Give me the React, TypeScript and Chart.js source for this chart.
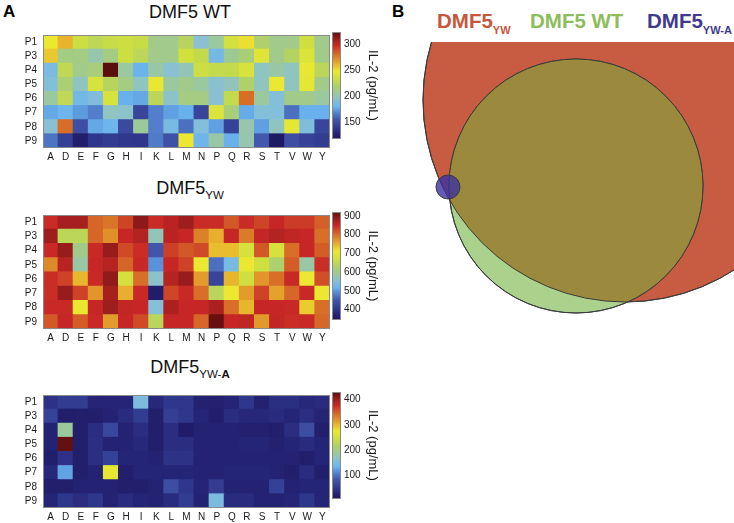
import React, { useEffect, useRef } from 'react';
import { Chart, registerables } from 'chart.js';

Chart.register(...registerables);
const FONT = '"Liberation Sans", Arial, Helvetica, sans-serif';
Chart.defaults.font.family = FONT;
Chart.defaults.color = '#1a1a1a';

// ---------- data ----------
const residues = ['A', 'D', 'E', 'F', 'G', 'H', 'I', 'K', 'L', 'M', 'N', 'P', 'Q', 'R', 'S', 'T', 'V', 'W', 'Y'];
const positions = ['P1', 'P3', 'P4', 'P5', 'P6', 'P7', 'P8', 'P9'];

// IL-2 (pg/mL), rows P1..P9, columns A..Y
const wtValues = [
  [248, 261, 232, 225, 230, 232, 230, 210, 210, 222, 192, 204, 236, 250, 218, 210, 210, 234, 210],
  [256, 212, 212, 200, 212, 232, 224, 210, 210, 235, 228, 183, 208, 215, 242, 210, 220, 240, 210],
  [186, 226, 210, 214, 323, 204, 179, 202, 192, 198, 232, 228, 228, 238, 196, 202, 196, 246, 224],
  [190, 216, 196, 238, 222, 212, 196, 247, 204, 210, 204, 193, 197, 218, 196, 248, 196, 245, 210],
  [204, 226, 183, 188, 238, 178, 176, 224, 194, 212, 212, 192, 228, 280, 205, 190, 210, 210, 204],
  [176, 180, 173, 166, 196, 194, 145, 166, 174, 178, 145, 240, 215, 177, 190, 190, 162, 178, 178],
  [192, 280, 150, 176, 180, 148, 206, 166, 185, 162, 190, 174, 143, 200, 174, 196, 245, 188, 145],
  [163, 142, 124, 137, 140, 138, 137, 165, 152, 248, 180, 202, 178, 200, 155, 120, 150, 143, 140],
];
const ywValues = [
  [846, 875, 875, 806, 795, 829, 892, 846, 860, 880, 846, 846, 815, 846, 829, 850, 835, 835, 810],
  [880, 644, 644, 806, 775, 850, 865, 570, 860, 850, 785, 750, 850, 790, 852, 865, 855, 850, 800],
  [848, 885, 605, 848, 885, 825, 845, 448, 832, 815, 825, 740, 740, 680, 815, 680, 800, 850, 812],
  [780, 860, 585, 850, 862, 806, 848, 495, 850, 830, 711, 470, 535, 711, 670, 625, 812, 585, 845],
  [845, 830, 745, 848, 890, 675, 800, 560, 862, 885, 765, 420, 745, 672, 770, 800, 848, 710, 822],
  [845, 885, 830, 770, 875, 750, 848, 360, 828, 848, 800, 640, 711, 765, 830, 760, 805, 848, 711],
  [848, 848, 708, 850, 880, 852, 850, 550, 870, 850, 850, 870, 800, 745, 850, 850, 848, 730, 800],
  [815, 850, 812, 848, 765, 850, 825, 640, 850, 850, 805, 915, 850, 855, 768, 852, 845, 848, 805],
];
const ywaValues = [
  [45, 55, 55, 30, 30, 30, 152, 35, 50, 50, 25, 25, 30, 50, 25, 42, 42, 35, 38],
  [62, 22, 22, 22, 28, 38, 55, 22, 58, 50, 32, 22, 40, 35, 35, 38, 32, 40, 30],
  [28, 190, 22, 40, 68, 28, 40, 22, 40, 18, 28, 28, 28, 25, 25, 22, 40, 75, 22],
  [28, 426, 22, 42, 28, 28, 35, 22, 40, 40, 28, 28, 28, 32, 32, 25, 32, 38, 32],
  [22, 45, 22, 42, 60, 32, 32, 28, 45, 45, 28, 28, 28, 28, 28, 28, 28, 22, 32],
  [35, 126, 22, 28, 270, 22, 32, 32, 32, 32, 28, 28, 32, 32, 32, 28, 22, 38, 22],
  [22, 22, 28, 28, 28, 22, 22, 28, 75, 50, 32, 55, 28, 28, 28, 60, 28, 32, 32],
  [32, 50, 40, 50, 28, 38, 32, 28, 38, 55, 28, 150, 38, 38, 28, 28, 32, 50, 32],
];

const wtRange = [117, 323];
const ywRange = [344, 921];
const ywaRange = [8, 430];
const wtTicks = [150, 200, 250, 300];
const ywTicks = [400, 500, 600, 700, 800, 900];
const ywaTicks = [100, 200, 300, 400];

// Venn circles (units; red = DMF5 YW, green = DMF5 WT, blue = DMF5 YW-A)
const vennNames = ['DMF5 YW-A', 'DMF5 WT', 'DMF5 YW'];
const vennX = [-1.77, -0.49, 0];
const vennY = [-0.87, -0.86, 0];
const vennR = [0.12, 1.27, 2.02];

// ---------- colormap ----------
const cmapStops: Array<[number, number[]]> = [
  [0.0, [28, 22, 95]],
  [0.06, [38, 38, 120]],
  [0.11, [50, 60, 145]],
  [0.18, [65, 85, 170]],
  [0.25, [85, 135, 210]],
  [0.3, [106, 180, 238]],
  [0.36, [135, 192, 215]],
  [0.4, [150, 198, 175]],
  [0.45, [160, 202, 140]],
  [0.5, [180, 210, 100]],
  [0.56, [205, 222, 65]],
  [0.636, [236, 232, 50]],
  [0.7, [232, 178, 45]],
  [0.79, [216, 110, 40]],
  [0.874, [200, 40, 38]],
  [0.94, [150, 28, 28]],
  [1.0, [92, 14, 14]],
];
function cmap(t: number): string {
  const x = Math.max(0, Math.min(1, t));
  for (let i = 1; i < cmapStops.length; i++) {
    const [t0, c0] = cmapStops[i - 1];
    const [t1, c1] = cmapStops[i];
    if (x <= t1) {
      const f = (x - t0) / (t1 - t0);
      return `rgb(${c0.map((c, k) => Math.round(c + (c1[k] - c) * f)).join(',')})`;
    }
  }
  const c = cmapStops[cmapStops.length - 1][1];
  return `rgb(${c.join(',')})`;
}

const framePlugin = {
  id: 'frame',
  afterDatasetsDraw(chart: any) {
    const { ctx, chartArea: a } = chart;
    ctx.save();
    ctx.strokeStyle = '#8a8a8a';
    ctx.lineWidth = 1;
    const l = Math.round(a.left) + 0.5;
    const t = Math.round(a.top) + 0.5;
    ctx.strokeRect(l, t, Math.round(a.right) - 0.5 - l, Math.round(a.bottom) - 0.5 - t);
    ctx.restore();
  },
};

function Heatmap({ values, range, top, height, xh }: { values: number[][]; range: number[]; top: number; height: number; xh: number }) {
  const ref = useRef<HTMLCanvasElement>(null);
  useEffect(() => {
    const [lo, hi] = range;
    const datasets = positions
      .map((p, ri) => ({
        label: p,
        data: residues.map(() => 1),
        backgroundColor: values[ri].map((v) => cmap((v - lo) / (hi - lo))),
        borderWidth: 0,
        inflateAmount: 0.5,
        barPercentage: 1,
        categoryPercentage: 1,
      }))
      .reverse();
    const chart = new Chart(ref.current!, {
      type: 'bar',
      data: { labels: residues, datasets },
      options: {
        responsive: false,
        animation: false,
        events: [],
        layout: { padding: 0 },
        plugins: { legend: { display: false }, tooltip: { enabled: false } },
        scales: {
          x: {
            stacked: true,
            grid: { display: false, drawTicks: false },
            border: { display: false },
            ticks: { padding: 3, font: { size: 10 }, color: '#1a1a1a', maxRotation: 0, autoSkip: false },
            afterFit: (s: any) => { s.height = xh; },
          },
          y: { stacked: true, display: false, min: 0, max: positions.length },
          yl: {
            type: 'category',
            labels: positions,
            position: 'left',
            offset: true,
            grid: { display: false, drawTicks: false },
            border: { display: false },
            ticks: { padding: 6, font: { size: 10 }, color: '#1a1a1a', autoSkip: false },
            afterFit: (s: any) => { s.width = 43; },
          },
        },
      } as any,
      plugins: [framePlugin],
    });
    return () => chart.destroy();
  }, []);
  return <canvas ref={ref} width={330} height={height} style={{ position: 'absolute', left: 0, top, display: 'block' }} />;
}

function Colorbar({ range, ticks, top, height }: { range: number[]; ticks: number[]; top: number; height: number }) {
  const ref = useRef<HTMLCanvasElement>(null);
  useEffect(() => {
    const [lo, hi] = range;
    const chart = new Chart(ref.current!, {
      type: 'bar',
      data: {
        labels: [''],
        datasets: [
          {
            data: [[lo, hi]],
            backgroundColor: (c: any) => {
              const a = c.chart.chartArea;
              if (!a) return '#888';
              const g = c.chart.ctx.createLinearGradient(0, a.bottom, 0, a.top);
              for (let i = 0; i <= 60; i++) g.addColorStop(i / 60, cmap(i / 60));
              return g;
            },
            borderWidth: 0,
            barPercentage: 1,
            categoryPercentage: 1,
            inflateAmount: 0,
          },
        ],
      },
      options: {
        responsive: false,
        animation: false,
        events: [],
        layout: { padding: 0 },
        plugins: { legend: { display: false }, tooltip: { enabled: false } },
        scales: {
          x: { display: false },
          y: {
            position: 'right',
            min: lo,
            max: hi,
            afterBuildTicks: (s: any) => { s.ticks = ticks.map((v) => ({ value: v })); },
            grid: { display: false, drawTicks: false },
            border: { display: false },
            ticks: { padding: 3, font: { size: 10 }, color: '#1a1a1a' },
            title: { display: true, text: 'IL-2 (pg/mL)', font: { size: 13 }, color: '#1a1a1a', padding: { top: 4, bottom: 4 } },
            afterFit: (s: any) => { s.width = 43; },
          },
        },
      } as any,
      plugins: [framePlugin],
    });
    return () => chart.destroy();
  }, []);
  return <canvas ref={ref} width={52} height={height} style={{ position: 'absolute', left: 332, top, display: 'block' }} />;
}

const vennFill = ['rgba(60,50,160,0.8)', 'rgb(170,210,140)', 'rgb(199,92,66)'];
const overlapColor = 'rgb(155,138,62)';

const vennOverlapPlugin = {
  id: 'vennOverlap',
  afterDatasetDraw(chart: any, args: any) {
    if (args.index !== 1) return;
    const red = chart.getDatasetMeta(2).data[0] as any;
    const green = chart.getDatasetMeta(1).data[0] as any;
    const rr = red.options.radius;
    const gr = green.options.radius;
    const { ctx, chartArea: a } = chart;
    ctx.save();
    ctx.beginPath();
    ctx.rect(a.left - 60, a.top, a.right - a.left + 60, a.bottom - a.top + 60);
    ctx.clip();
    ctx.save();
    ctx.beginPath();
    ctx.arc(red.x, red.y, rr, 0, Math.PI * 2);
    ctx.clip();
    ctx.beginPath();
    ctx.arc(green.x, green.y, gr, 0, Math.PI * 2);
    ctx.fillStyle = overlapColor;
    ctx.fill();
    ctx.restore();
    ctx.lineWidth = 1;
    ctx.strokeStyle = '#3a3a3a';
    ctx.beginPath();
    ctx.arc(red.x, red.y, rr, 0, Math.PI * 2);
    ctx.stroke();
    ctx.beginPath();
    ctx.arc(green.x, green.y, gr, 0, Math.PI * 2);
    ctx.stroke();
    ctx.restore();
  },
};

function Venn() {
  const ref = useRef<HTMLCanvasElement>(null);
  useEffect(() => {
    const pxRadius = (c: any) => {
      const s = c.chart.scales.x;
      const raw = c.raw;
      if (!s || !raw) return 0;
      const r = Math.abs(s.getPixelForValue(raw.rad) - s.getPixelForValue(0));
      return isFinite(r) ? r : 0;
    };
    const chart = new Chart(ref.current!, {
      type: 'scatter',
      data: {
        datasets: vennNames.map((n, i) => ({
          label: n,
          data: [{ x: vennX[i], y: vennY[i], rad: vennR[i] }],
          showLine: false,
          pointBackgroundColor: vennFill[i],
          pointBorderColor: '#3a3a3a',
          pointBorderWidth: 1,
          pointRadius: pxRadius,
          order: i,
          clip: i === 2 ? { left: false, top: 0, right: 0, bottom: false } : false,
        })),
      },
      options: {
        responsive: false,
        animation: false,
        events: [],
        layout: { padding: 0 },
        plugins: { legend: { display: false }, tooltip: { enabled: false } },
        scales: {
          x: { type: 'linear', display: false, min: -2.2, max: 1.09 },
          y: { type: 'linear', display: false, min: -2.32, max: 0.58 },
        },
      } as any,
      plugins: [vennOverlapPlugin],
    });
    return () => chart.destroy();
  }, []);
  return <canvas ref={ref} width={329} height={290} style={{ position: 'absolute', left: 405, top: 42, display: 'block' }} />;
}

const subStyle = (size: number, drop: number): React.CSSProperties => ({ fontSize: size, position: 'relative', top: drop, verticalAlign: 'baseline' });

export default function App() {
  const title: React.CSSProperties = { position: 'absolute', left: 40, width: 300, textAlign: 'center', fontSize: 18, lineHeight: '18px', color: '#111', whiteSpace: 'nowrap' };
  const legend: React.CSSProperties = { position: 'absolute', top: 11, fontSize: 20.5, lineHeight: '20.5px', fontWeight: 'bold', whiteSpace: 'nowrap' };
  return (
    <div style={{ position: 'absolute', left: 0, top: 0, width: 734, height: 523, overflow: 'hidden', background: '#fff', fontFamily: FONT }}>
      <div style={{ position: 'absolute', left: 3, top: 3, fontSize: 17, lineHeight: '17px', fontWeight: 'bold' }}>A</div>
      <div style={{ position: 'absolute', left: 392, top: 3, fontSize: 17, lineHeight: '17px', fontWeight: 'bold' }}>B</div>

      <div style={{ ...title, top: 3 }}>DMF5 WT</div>
      <div style={{ ...title, top: 179 }}>
        DMF5<span style={subStyle(11.5, 5)}>YW</span>
      </div>
      <div style={{ ...title, top: 358 }}>
        DMF5<span style={subStyle(11.5, 5)}>YW-<b>A</b></span>
      </div>

      <Heatmap values={wtValues} range={wtRange} top={23} height={141} xh={16} />
      <Colorbar range={wtRange} ticks={wtTicks} top={23} height={125} />
      <Heatmap values={ywValues} range={ywRange} top={203} height={142} xh={16} />
      <Colorbar range={ywRange} ticks={ywTicks} top={203} height={126} />
      <Heatmap values={ywaValues} range={ywaRange} top={383} height={139} xh={14} />
      <Colorbar range={ywaRange} ticks={ywaTicks} top={383} height={125} />

      <Venn />

      <div style={{ ...legend, left: 437, color: '#c8563c' }}>
        DMF5<span style={subStyle(11, 6)}>YW</span>
      </div>
      <div style={{ ...legend, left: 530, color: '#8cbd5b' }}>DMF5 WT</div>
      <div style={{ ...legend, left: 647, color: '#3f3a8f' }}>
        DMF5<span style={subStyle(11, 6)}>YW-A</span>
      </div>
    </div>
  );
}
